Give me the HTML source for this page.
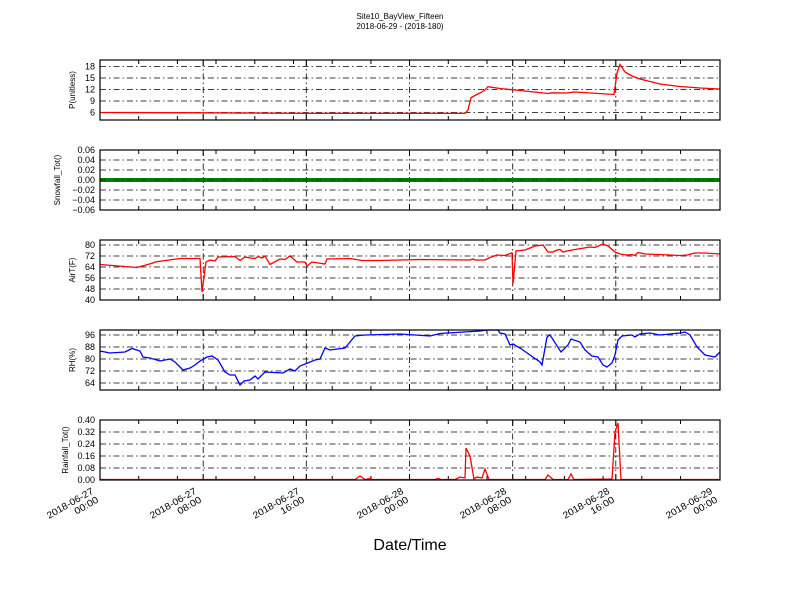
<!DOCTYPE html>
<html><head><meta charset="utf-8"><style>
body{margin:0;background:#fff}
svg{display:block;font-family:"Liberation Sans",sans-serif}
</style></head><body>
<svg width="800" height="600" viewBox="0 0 800 600" xmlns="http://www.w3.org/2000/svg">
<defs>
<g id="vg">
<g stroke="#000" stroke-width="0.8" stroke-dasharray="6,3,1.5,3" fill="none">
<line x1="203.2" y1="0" x2="203.2" y2="60"/><line x1="306.3" y1="0" x2="306.3" y2="60"/><line x1="409.5" y1="0" x2="409.5" y2="60"/><line x1="512.7" y1="0" x2="512.7" y2="60"/><line x1="615.8" y1="0" x2="615.8" y2="60"/>
</g>
<g stroke="#000" stroke-width="1">
<path d="M138.7,0v4M177.4,0v4M216,0v4M254.8,0v4M293.5,0v4M332.2,0v4M370.9,0v4M448.3,0v4M487,0v4M525.7,0v4M564.4,0v4M603.1,0v4M641.8,0v4M680.5,0v4M203.2,0v6M306.3,0v6M409.5,0v6M512.7,0v6M615.8,0v6"/>
<path d="M138.7,60v-4M177.4,60v-4M216,60v-4M254.8,60v-4M293.5,60v-4M332.2,60v-4M370.9,60v-4M448.3,60v-4M487,60v-4M525.7,60v-4M564.4,60v-4M603.1,60v-4M641.8,60v-4M680.5,60v-4M203.2,60v-6M306.3,60v-6M409.5,60v-6M512.7,60v-6M615.8,60v-6"/>
</g>
</g>
<g id="xl"><text x="-1" y="4" text-anchor="end" textLength="52" lengthAdjust="spacingAndGlyphs">2018-06-27</text></g>
</defs>
<text x="400" y="19" font-size="8" text-anchor="middle">Site10_BayView_Fifteen</text>
<text x="400" y="29" font-size="8" text-anchor="middle">2018-06-29 - (2018-180)</text>

<!-- Panel 1 -->
<g transform="translate(0,60)"><use href="#vg"/></g>
<g stroke="#000" stroke-width="0.8" stroke-dasharray="6,3,1.5,3">
<line x1="100" y1="66.5" x2="720" y2="66.5"/><line x1="100" y1="78" x2="720" y2="78"/><line x1="100" y1="89.5" x2="720" y2="89.5"/><line x1="100" y1="101" x2="720" y2="101"/><line x1="100" y1="112.5" x2="720" y2="112.5"/>
</g>
<polyline fill="none" stroke="#f00" stroke-width="1.3" points="100,112.5 200,112.8 300,113.3 420,113.3 465,113.3 468,110 471,97.7 476,95 480,93 485,90 488,86.7 500,88.5 520,90.5 548,93.5 552,92.8 566,93 570,92.5 575,92 614,94.5 617,73 620,64.5 625,72 632,76 640,79 660,84 680,86.5 700,88 720,89"/>
<rect x="100" y="60" width="620" height="60" fill="none" stroke="#000" stroke-width="1.2"/>
<g font-size="9" text-anchor="end"><text x="95" y="69.5">18</text><text x="95" y="81">15</text><text x="95" y="92.5">12</text><text x="95" y="104">9</text><text x="95" y="115.5">6</text></g>
<text transform="translate(75,90) rotate(-90)" font-size="8" text-anchor="middle">P(unitless)</text>

<!-- Panel 2 -->
<g transform="translate(0,150)"><use href="#vg"/></g>
<g stroke="#000" stroke-width="0.8" stroke-dasharray="6,3,1.5,3">
<line x1="100" y1="160" x2="720" y2="160"/><line x1="100" y1="170" x2="720" y2="170"/><line x1="100" y1="190" x2="720" y2="190"/><line x1="100" y1="200" x2="720" y2="200"/>
</g>
<line x1="100" y1="180" x2="720" y2="180" stroke="#007f00" stroke-width="4"/>
<line x1="100" y1="180" x2="720" y2="180" stroke="#000" stroke-width="0.8" stroke-dasharray="6,3,1.5,3" opacity="0.5"/>
<rect x="100" y="150" width="620" height="60" fill="none" stroke="#000" stroke-width="1.2"/>
<g font-size="9" text-anchor="end"><text x="95" y="153">0.06</text><text x="95" y="163">0.04</text><text x="95" y="173">0.02</text><text x="95" y="183">0.00</text><text x="95" y="193">−0.02</text><text x="95" y="203">−0.04</text><text x="95" y="213">−0.06</text></g>
<text transform="translate(60,180) rotate(-90)" font-size="8" text-anchor="middle">Snowfall_Tot()</text>

<!-- Panel 3 -->
<g transform="translate(0,240)"><use href="#vg"/></g>
<g stroke="#000" stroke-width="0.8" stroke-dasharray="6,3,1.5,3">
<line x1="100" y1="245" x2="720" y2="245"/><line x1="100" y1="256" x2="720" y2="256"/><line x1="100" y1="267" x2="720" y2="267"/><line x1="100" y1="278" x2="720" y2="278"/><line x1="100" y1="289" x2="720" y2="289"/>
</g>
<polyline fill="none" stroke="#f00" stroke-width="1.3" points="100,264.5 137,267.5 153,263 155,262 180,258.5 200,258.5 202,292 206,262 210,260 215,261 218,257 235,256.5 240,260.5 245,257 250,258 255,258.5 258,256.5 262,258 265,256 270,264.5 280,259 285,259.5 290,256 297,262 305,262 307,266 312,262 325,264 327,259 350,258.5 362,260.5 380,260.5 420,259.5 470,260 473,259 475,260 485,260 490,257.5 497,255 505,255.5 510,253.5 512,253 513,284 516,251 525,250 530,248 535,246 543,245 548,252 553,252 557,250 560,249.5 563,252 567,251 575,249.5 590,247 595,247.5 603,244 608,246 615,252 620,254 627,255 632,254.5 635,255.5 638,252.5 645,254 670,255 680,255.5 687,255 695,253 705,253 720,254"/>
<rect x="100" y="240" width="620" height="60" fill="none" stroke="#000" stroke-width="1.2"/>
<g font-size="9" text-anchor="end"><text x="95" y="248">80</text><text x="95" y="259">72</text><text x="95" y="270">64</text><text x="95" y="281">56</text><text x="95" y="292">48</text><text x="95" y="303">40</text></g>
<text transform="translate(75,270) rotate(-90)" font-size="8" text-anchor="middle">AirT(F)</text>

<!-- Panel 4 -->
<g transform="translate(0,330)"><use href="#vg"/></g>
<g stroke="#000" stroke-width="0.8" stroke-dasharray="6,3,1.5,3">
<line x1="100" y1="335" x2="720" y2="335"/><line x1="100" y1="347" x2="720" y2="347"/><line x1="100" y1="359" x2="720" y2="359"/><line x1="100" y1="371" x2="720" y2="371"/><line x1="100" y1="383" x2="720" y2="383"/>
</g>
<polyline fill="none" stroke="#00f" stroke-width="1.3" points="100,351 110,353 125,352 132,348.5 140,351 143,357 150,358 160,361 170,359 175,362 183,370 190,368 195,365 200,361 207,357 212,356 218,360 225,372 230,375 235,375 240,385 244,381 250,380 255,376 258,379 265,372 283,373 290,369 295,371 300,366 315,360 320,359 325,348 330,350 345,348 355,336 365,335 400,334 430,336 440,333.5 480,331 488,330 498,330 500,333 505,334 510,345 513,344 520,348 530,355 540,362 542,365 547,337 550,335 561,352 568,345 571,339 580,342 585,350 592,356 598,357 603,365 607,367 612,363 615,355 618,340 622,336 632,335 635,337 640,334 650,333 660,335 680,333 685,332 690,335 697,347 705,355 710,356 715,357 720,352"/>
<rect x="100" y="330" width="620" height="60" fill="none" stroke="#000" stroke-width="1.2"/>
<g font-size="9" text-anchor="end"><text x="95" y="338">96</text><text x="95" y="350">88</text><text x="95" y="362">80</text><text x="95" y="374">72</text><text x="95" y="386">64</text></g>
<text transform="translate(75,360) rotate(-90)" font-size="8" text-anchor="middle">RH(%)</text>

<!-- Panel 5 -->
<g transform="translate(0,420)"><use href="#vg"/></g>
<g stroke="#000" stroke-width="0.8" stroke-dasharray="6,3,1.5,3">
<line x1="100" y1="432" x2="720" y2="432"/><line x1="100" y1="444" x2="720" y2="444"/><line x1="100" y1="456" x2="720" y2="456"/><line x1="100" y1="468" x2="720" y2="468"/>
</g>
<polyline fill="none" stroke="#f00" stroke-width="1.3" points="100,479.5 355,479.5 360,476 365,479.5 370,478.5 372,479.5 435,479.5 438,478.5 441,479.5 455,479.5 460,477 465,478 466,448 470,456 474,479 477,477 482,478 485,469 489,479.5 545,479.5 548,475 553,479.5 568,479.5 571,474 574,479.5 612,479 615,432 618,423 621,479.5 720,479.5"/>
<rect x="100" y="420" width="620" height="60" fill="none" stroke="#000" stroke-width="1.2"/>
<g font-size="9" text-anchor="end"><text x="95" y="423">0.40</text><text x="95" y="435">0.32</text><text x="95" y="447">0.24</text><text x="95" y="459">0.16</text><text x="95" y="471">0.08</text><text x="95" y="483">0.00</text></g>
<text transform="translate(68,450) rotate(-90)" font-size="8" text-anchor="middle">Rainfall_Tot()</text>

<!-- x labels -->
<g font-size="9.5">
<g transform="translate(93,489) rotate(-30)"><text x="-1" y="4" text-anchor="end" textLength="52" lengthAdjust="spacingAndGlyphs">2018-06-27</text><text x="-14" y="14" text-anchor="middle" textLength="26" lengthAdjust="spacingAndGlyphs">00:00</text></g>
<g transform="translate(196,489) rotate(-30)"><text x="-1" y="4" text-anchor="end" textLength="52" lengthAdjust="spacingAndGlyphs">2018-06-27</text><text x="-14" y="14" text-anchor="middle" textLength="26" lengthAdjust="spacingAndGlyphs">08:00</text></g>
<g transform="translate(299,489) rotate(-30)"><text x="-1" y="4" text-anchor="end" textLength="52" lengthAdjust="spacingAndGlyphs">2018-06-27</text><text x="-14" y="14" text-anchor="middle" textLength="26" lengthAdjust="spacingAndGlyphs">16:00</text></g>
<g transform="translate(403,489) rotate(-30)"><text x="-1" y="4" text-anchor="end" textLength="52" lengthAdjust="spacingAndGlyphs">2018-06-28</text><text x="-14" y="14" text-anchor="middle" textLength="26" lengthAdjust="spacingAndGlyphs">00:00</text></g>
<g transform="translate(506,489) rotate(-30)"><text x="-1" y="4" text-anchor="end" textLength="52" lengthAdjust="spacingAndGlyphs">2018-06-28</text><text x="-14" y="14" text-anchor="middle" textLength="26" lengthAdjust="spacingAndGlyphs">08:00</text></g>
<g transform="translate(609,489) rotate(-30)"><text x="-1" y="4" text-anchor="end" textLength="52" lengthAdjust="spacingAndGlyphs">2018-06-28</text><text x="-14" y="14" text-anchor="middle" textLength="26" lengthAdjust="spacingAndGlyphs">16:00</text></g>
<g transform="translate(712,489) rotate(-30)"><text x="-1" y="4" text-anchor="end" textLength="52" lengthAdjust="spacingAndGlyphs">2018-06-29</text><text x="-14" y="14" text-anchor="middle" textLength="26" lengthAdjust="spacingAndGlyphs">00:00</text></g>
</g>
<text x="410" y="550" font-size="16" text-anchor="middle">Date/Time</text>
</svg>
</body></html>
